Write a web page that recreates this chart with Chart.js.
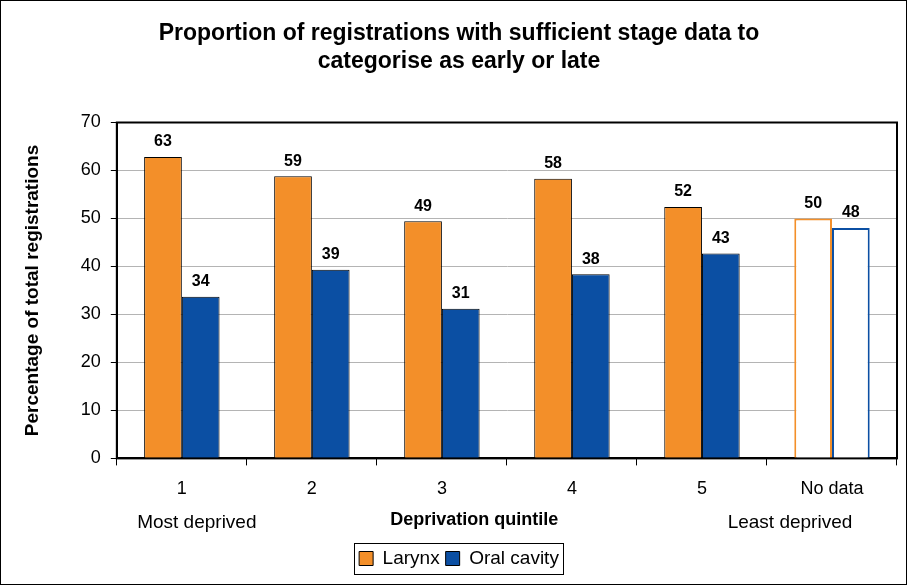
<!DOCTYPE html>
<html>
<head>
<meta charset="utf-8">
<script src="https://cdn.jsdelivr.net/npm/chart.js@4.4.1/dist/chart.umd.min.js"></script>
<style>
  html, body { margin: 0; padding: 0; background: #fff; }
  #wrap { width: 907px; height: 585px; }
</style>
</head>
<body>
<div id="wrap"><canvas id="chart" width="907" height="585"></canvas></div>
<script>
// Data
const categories = ['1', '2', '3', '4', '5', 'No data'];
const larynx = [62.8, 58.8, 49.4, 58.3, 52.4, 50.0];
const oralCavity = [33.7, 39.3, 31.2, 38.4, 42.7, 48.0];
const yTicks = [0, 10, 20, 30, 40, 50, 60, 70];

const titleLines = ['Proportion of registrations with sufficient stage data to', 'categorise as early or late'];
const yTitle = 'Percentage of total registrations';
const xTitle = 'Deprivation quintile';
const leftNote = 'Most deprived';
const rightNote = 'Least deprived';

const ORANGE = '#f38f29';
const BLUE = '#0b4fa3';
const FONT = "'Liberation Sans', Arial, sans-serif";

// the 'No data' bars are drawn hollow
const isHollow = ctx => categories[ctx.dataIndex] === 'No data';

const framePlugin = {
    id: 'frame',
    beforeDraw(chart) {
        const c = chart.ctx;
        c.save();
        c.fillStyle = '#fff';
        c.fillRect(0, 0, chart.width, chart.height);
        c.restore();
    },
    afterDraw(chart) {
        const c = chart.ctx;
        const a = chart.chartArea;
        c.save();
        // plot area frame
        c.strokeStyle = '#000';
        c.lineWidth = 2;
        c.strokeRect(a.left, a.top, a.right - a.left, a.bottom - a.top);
        // outer border
        c.lineWidth = 1;
        c.strokeRect(0.5, 0.5, chart.width - 1, chart.height - 1);

        // value labels above the bars
        c.fillStyle = '#000';
        c.font = 'bold 16px ' + FONT;
        c.textAlign = 'center';
        c.textBaseline = 'bottom';
        chart.data.datasets.forEach((ds, i) => {
            chart.getDatasetMeta(i).data.forEach((bar, j) => {
                c.fillText(Math.round(ds.data[j]), bar.x, bar.y - 7);
            });
        });

        // notes under the category axis
        const x = chart.scales.x;
        const yNote = a.bottom + 64;
        c.font = '19px ' + FONT;
        c.textBaseline = 'middle';
        c.fillText(leftNote, x.getPixelForValue(0) + 15, yNote);
        c.fillText(rightNote, x.getPixelForValue(5) - 42, yNote);
        c.font = 'bold 18px ' + FONT;
        c.fillText(xTitle, a.left + (a.right - a.left) * 0.458, yNote - 2);

        // box round the legend
        const boxes = chart.legend.legendHitBoxes;
        if (boxes && boxes.length) {
            const l = Math.min(...boxes.map(b => b.left)) - 5;
            const r = Math.max(...boxes.map(b => b.left + b.width)) + 4;
            const t = Math.min(...boxes.map(b => b.top)) - 6;
            const btm = Math.max(...boxes.map(b => b.top + b.height)) + 6;
            c.strokeStyle = '#000';
            c.lineWidth = 1;
            c.strokeRect(Math.round(l) + 0.5, Math.round(t) + 0.5, Math.round(r - l), Math.round(btm - t));
        }
        c.restore();
    }
};

new Chart(document.getElementById('chart'), {
    type: 'bar',
    data: {
        labels: categories,
        datasets: [{
            label: 'Larynx',
            data: larynx,
            backgroundColor: ctx => isHollow(ctx) ? '#fff' : ORANGE,
            borderColor: ctx => isHollow(ctx) ? ORANGE : '#000',
            borderWidth: ctx => isHollow(ctx) ? 2 : 1,
            categoryPercentage: 0.58,
            barPercentage: 1.0
        }, {
            label: 'Oral cavity',
            data: oralCavity,
            backgroundColor: ctx => isHollow(ctx) ? '#fff' : BLUE,
            borderColor: ctx => isHollow(ctx) ? BLUE : '#000',
            borderWidth: ctx => isHollow(ctx) ? 2 : 1,
            categoryPercentage: 0.58,
            barPercentage: 1.0
        }]
    },
    options: {
        responsive: false,
        animation: false,
        devicePixelRatio: 1,
        layout: { padding: { left: 21, right: 10, top: 0, bottom: 7 } },
        plugins: {
            title: {
                display: true,
                text: titleLines,
                color: '#000',
                font: { family: FONT, size: 23, weight: 'bold', lineHeight: 1.25 },
                padding: { top: 19, bottom: 46 }
            },
            legend: {
                position: 'bottom',
                labels: {
                    color: '#000',
                    font: { family: FONT, size: 19 },
                    boxWidth: 14,
                    boxHeight: 14,
                    padding: 6,
                    generateLabels: () => [
                        { text: 'Larynx', fillStyle: ORANGE, strokeStyle: '#000', lineWidth: 1, datasetIndex: 0 },
                        { text: 'Oral cavity', fillStyle: BLUE, strokeStyle: '#000', lineWidth: 1, datasetIndex: 1 }
                    ]
                },
                onClick: null
            },
            tooltip: { enabled: false }
        },
        scales: {
            x: {
                grid: {
                    offset: true,
                    drawOnChartArea: false,
                    drawTicks: true,
                    tickLength: 7,
                    tickColor: '#000',
                    tickWidth: 1
                },
                border: { color: '#000', width: 2 },
                ticks: { color: '#000', font: { family: FONT, size: 18 }, padding: 13 },
                afterFit: s => { s.height += 30; }
            },
            y: {
                min: 0,
                max: 70,
                afterBuildTicks: s => { s.ticks = yTicks.map(v => ({ value: v })); },
                grid: {
                    color: '#b4b4b4',
                    lineWidth: 1,
                    drawTicks: true,
                    tickLength: 6,
                    tickColor: '#000'
                },
                border: { color: '#000', width: 2 },
                ticks: { color: '#000', font: { family: FONT, size: 18 }, padding: 10 },
                title: {
                    display: true,
                    text: yTitle,
                    color: '#000',
                    font: { family: FONT, size: 19, weight: 'bold' },
                    padding: { top: 0, bottom: 27 }
                }
            }
        }
    },
    plugins: [framePlugin]
});
</script>
</body>
</html>
